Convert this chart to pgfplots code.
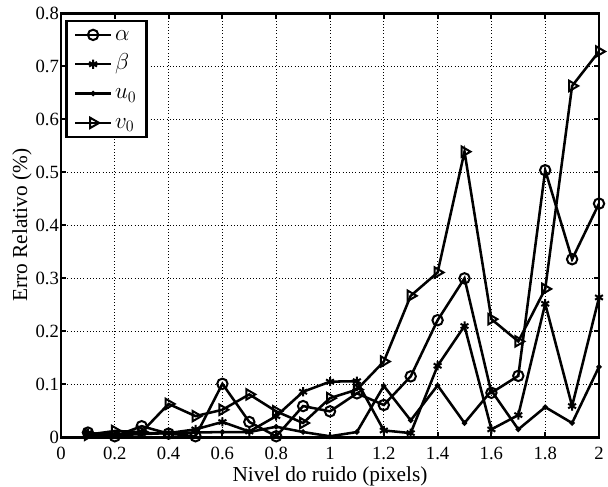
\documentclass[border=0pt]{standalone}
\usepackage{fontspec}
\setmainfont{Liberation Serif}
\usepackage{pgfplots}
\pgfplotsset{compat=1.18}

\begin{document}
\begin{tikzpicture}
\begin{axis}[
  name=ax,
  scale only axis,
  width=403.5pt, height=318pt,
  xmin=0, xmax=2, ymin=0, ymax=0.8,
  xtick={0,0.2,...,2}, ytick={0,0.1,...,0.8},
  xticklabels={0,0.2,0.4,0.6,0.8,1,1.2,1.4,1.6,1.8,2},
  yticklabels={0,0.1,0.2,0.3,0.4,0.5,0.6,0.7,0.8},
  tick align=inside, tick pos=both,
  major tick length=4pt,
  grid=major,
  major grid style={black, line width=0.5pt, dash pattern=on 0.6pt off 1.8pt},
  axis line style={line width=1.8pt},
  every tick/.style={black, line width=1.6pt},
  tick label style={font=\fontsize{14}{16}\selectfont},
  xticklabel style={yshift=-4pt},
  yticklabel style={xshift=2pt},
  label style={font=\fontsize{16}{18}\selectfont},
  xlabel={Nivel do ruido (pixels)},
  ylabel={Erro Relativo (\%)},
  xlabel style={at={(axis description cs:0.5,0)}, anchor=center, yshift=-29.5pt},
  ylabel style={at={(axis description cs:-0.0725,0.5)}, anchor=center},
  legend cell align=left,
  legend style={font=\fontsize{17}{19}\selectfont, draw=black, line width=1.8pt,
    inner xsep=5.5pt, inner ysep=1.5pt, row sep=4pt,
    nodes={text height=11pt, text depth=3pt},
    at={(axis description cs:0.008,0.985)}, anchor=north west},
  legend image code/.code={\draw[mark repeat=2, mark phase=2] plot coordinates {(0pt,0pt) (13.5pt,0pt) (27pt,0pt)};},
]
\addplot[black, line width=1.9pt, mark=o, mark size=3.9pt, mark options={solid, line width=1.5pt}] coordinates {
(0.1,0.009) (0.2,0.002) (0.3,0.021) (0.4,0.007) (0.5,0.002) (0.6,0.101) (0.7,0.029) (0.8,0.002) (0.9,0.059) (1.0,0.049)
(1.1,0.083) (1.2,0.061) (1.3,0.115) (1.4,0.221) (1.5,0.300) (1.6,0.084) (1.7,0.116) (1.8,0.504) (1.9,0.336) (2.0,0.441)};
\addlegendentry{$\alpha$}
\addplot[black, line width=1.9pt, mark=asterisk, mark size=3.4pt, mark options={solid, line width=1.5pt}] coordinates {
(0.1,0.008) (0.2,0.005) (0.3,0.008) (0.4,0.008) (0.5,0.015) (0.6,0.029) (0.7,0.011) (0.8,0.040) (0.9,0.086) (1.0,0.105)
(1.1,0.106) (1.2,0.013) (1.3,0.008) (1.4,0.135) (1.5,0.210) (1.6,0.015) (1.7,0.042) (1.8,0.252) (1.9,0.059) (2.0,0.264)};
\addlegendentry{$\beta$}
\addplot[black, line width=1.9pt, mark=*, mark size=0.9pt, mark options={solid}] coordinates {
(0.1,0.002) (0.2,0.004) (0.3,0.006) (0.4,0.008) (0.5,0.009) (0.6,0.010) (0.7,0.010) (0.8,0.020) (0.9,0.010) (1.0,0.002)
(1.1,0.010) (1.2,0.097) (1.3,0.032) (1.4,0.098) (1.5,0.027) (1.6,0.088) (1.7,0.015) (1.8,0.057) (1.9,0.027) (2.0,0.133)};
\addlegendentry{$u_0$}
\addplot[black, line width=1.9pt, mark=triangle, mark size=4.5pt, mark options={solid, rotate=-90, line width=1.5pt}] coordinates {
(0.1,0.005) (0.2,0.012) (0.3,0.010) (0.4,0.063) (0.5,0.040) (0.6,0.052) (0.7,0.081) (0.8,0.049) (0.9,0.027) (1.0,0.074)
(1.1,0.090) (1.2,0.143) (1.3,0.267) (1.4,0.311) (1.5,0.539) (1.6,0.223) (1.7,0.181) (1.8,0.280) (1.9,0.663) (2.0,0.728)};
\addlegendentry{$v_0$}
\end{axis}
\pgfresetboundingbox
\path[use as bounding box] ([shift={(-45.75pt,-36.75pt)}]ax.south west) rectangle ([shift={(6.75pt,10pt)}]ax.north east);
\end{tikzpicture}
\end{document}
